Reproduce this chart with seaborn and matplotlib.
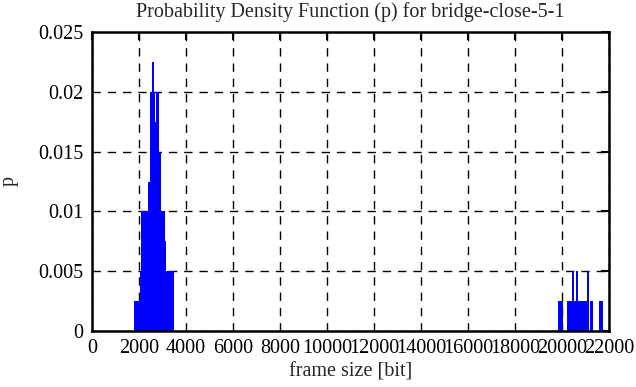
import numpy as np
import pandas as pd
import matplotlib
matplotlib.use("Agg")
import matplotlib.pyplot as plt
import seaborn as sns

# frame sizes [bit] and probability values
left_sizes = [1808, 1851, 1894, 1936, 1979, 2021, 2064, 2106, 2149, 2191,
              2234, 2277, 2319, 2362, 2404, 2447, 2489, 2532, 2574, 2617,
              2660, 2702, 2745, 2787, 2830, 2872, 2915, 2957, 3000, 3043,
              3085, 3128, 3170, 3213, 3255, 3298, 3340, 3383, 3425]
left_p = [0.0025, 0.0025, 0.0025, 0.0025, 0.0025, 0.0025, 0.005, 0.01, 0.0075, 0.01,
          0.01, 0.01, 0.01, 0.01, 0.0125, 0.0125, 0.02, 0.02, 0.0225, 0.02,
          0.0175, 0.0175, 0.02, 0.02, 0.015, 0.015, 0.01, 0.01, 0.01, 0.01,
          0.0075, 0.0025, 0.005, 0.0025, 0.005, 0.005, 0.005, 0.005, 0.005]

right_sizes = [19851, 19894, 19936, 19979, 20234, 20277, 20319, 20362, 20404, 20447,
               20489, 20532, 20574, 20617, 20660, 20702, 20745, 20787, 20830, 20872,
               20915, 20957, 21000, 21043, 21085, 21213, 21255, 21596, 21638, 21681]
right_p = [0.0025, 0.0025, 0.0025, 0.0025, 0.0025, 0.0025, 0.0025, 0.0025, 0.0025, 0.005,
           0.0025, 0.0025, 0.0025, 0.005, 0.0025, 0.0025, 0.0025, 0.0025, 0.0025, 0.0025,
           0.0025, 0.0025, 0.0025, 0.0025, 0.005, 0.0025, 0.0025, 0.0025, 0.0025, 0.0025]

x_ticks = [0, 2000, 4000, 6000, 8000, 10000, 12000, 14000, 16000, 18000, 20000, 22000]
y_ticks = [0, 0.005, 0.01, 0.015, 0.02, 0.025]
y_tick_labels = ["0", "0.005", "0.01", "0.015", "0.02", "0.025"]

df = pd.DataFrame({"size": left_sizes + right_sizes, "p": left_p + right_p})

sns.set_style("white")
plt.rcParams["font.family"] = ["Liberation Serif", "DejaVu Serif"]

fig = plt.figure(figsize=(6.36, 3.87), dpi=100)
ax = fig.add_axes([92 / 636, 56 / 387, 517 / 636, 299 / 387])

# one bin per pixel column, like gnuplot impulses
sns.histplot(data=df, x="size", weights="p", binwidth=22000 / 517, binrange=(0, 22000),
             color="blue", alpha=1, edgecolor="blue", linewidth=0.6,
             antialiased=False, ax=ax, zorder=3)

ax.set_xlim(0, 22000)
ax.set_ylim(0, 0.025)
ax.set_xticks(x_ticks)
ax.set_xticklabels([str(t) for t in x_ticks])
ax.set_yticks(y_ticks)
ax.set_yticklabels(y_tick_labels)
ax.tick_params(direction="in", length=6, width=1.5, top=True, right=True,
               labelsize=14.5, colors="black", pad=6)
ax.grid(True, color="black", linestyle=(0, (6, 5)), linewidth=1.0, zorder=1)
for s in ax.spines.values():
    s.set_color("black")
    s.set_linewidth(1.8)
    s.set_zorder(5)

ax.set_xlabel("frame size [bit]", fontsize=14.5, labelpad=3)
ax.set_ylabel("p", fontsize=14.5, labelpad=14)
ax.set_title("Probability Density Function (p) for bridge-close-5-1", fontsize=14.5, pad=11)

fig.savefig("out.png", dpi=100)
